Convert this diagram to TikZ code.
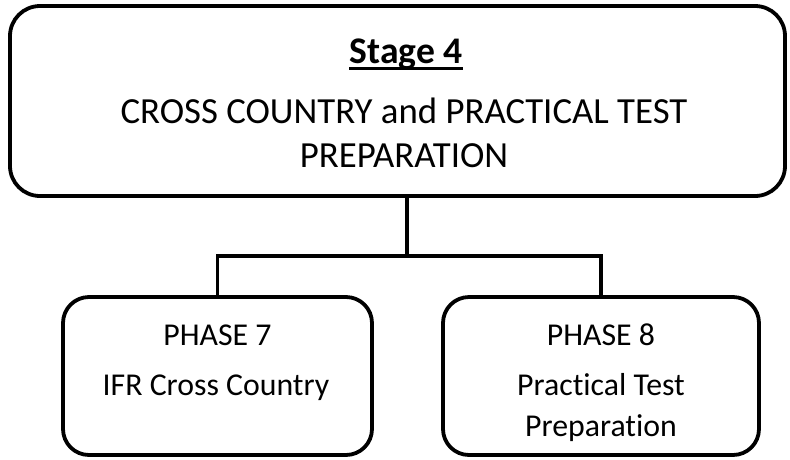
\documentclass[tikz,border=0pt]{standalone}
\usepackage{fontspec}
\setmainfont[Ligatures={NoCommon,NoRare,NoContextual}]{Carlito}
\begin{document}
\begin{tikzpicture}[x=1pt,y=-1pt,
  box/.style={draw=black,line width=3.8pt,rounded corners=#1},
  conn/.style={draw=black,line width=3.8pt},
  txt/.style={inner sep=0pt,anchor=base,text=black}]
\useasboundingbox (0,0) rectangle (790,459);
% boxes
\path[box=30pt] (10,6) rectangle (785,196);
\node[inner sep=0pt,minimum width=775pt,minimum height=190pt] (top) at (397.5,101) {};
\path[box=26pt] (63,297) rectangle (372,455);
\node[inner sep=0pt,minimum width=309pt,minimum height=158pt] (p7) at (217.5,376) {};
\path[box=26pt] (443,297) rectangle (759,455);
\node[inner sep=0pt,minimum width=316pt,minimum height=158pt] (p8) at (601,376) {};
% texts
\node[txt,font=\fontsize{37.6}{42}\selectfont\bfseries] (s4) at (406,63) {Stage 4};
\draw[line width=2.8pt] ([yshift=-5.5pt]s4.base west) -- ([yshift=-5.5pt]s4.base east);
\node[txt,font=\fontsize{36.8}{42}\selectfont] (l1) at (404,123) {CROSS COUNTRY and PRACTICAL TEST};
\node[txt,font=\fontsize{36.8}{42}\selectfont] (l2) at (404,167) {PREPARATION};
\node[txt,font=\fontsize{31.8}{36}\selectfont] (a1) at (217.5,345) {PHASE 7};
\node[txt,font=\fontsize{31.8}{36}\selectfont] (a2) at (216,395) {IFR Cross Country};
\node[txt,font=\fontsize{31.8}{36}\selectfont] (b1) at (601,345) {PHASE 8};
\node[txt,font=\fontsize{31.8}{36}\selectfont] (b2) at (601,395) {Practical Test};
\node[txt,font=\fontsize{31.8}{36}\selectfont] (b3) at (601,436) {Preparation};
% connectors
\coordinate (j) at (407,256);
\draw[conn] (top.south -| j) -- (j);
\draw[conn] (p7.north) |- (j) -| (p8.north);
\end{tikzpicture}
\end{document}
